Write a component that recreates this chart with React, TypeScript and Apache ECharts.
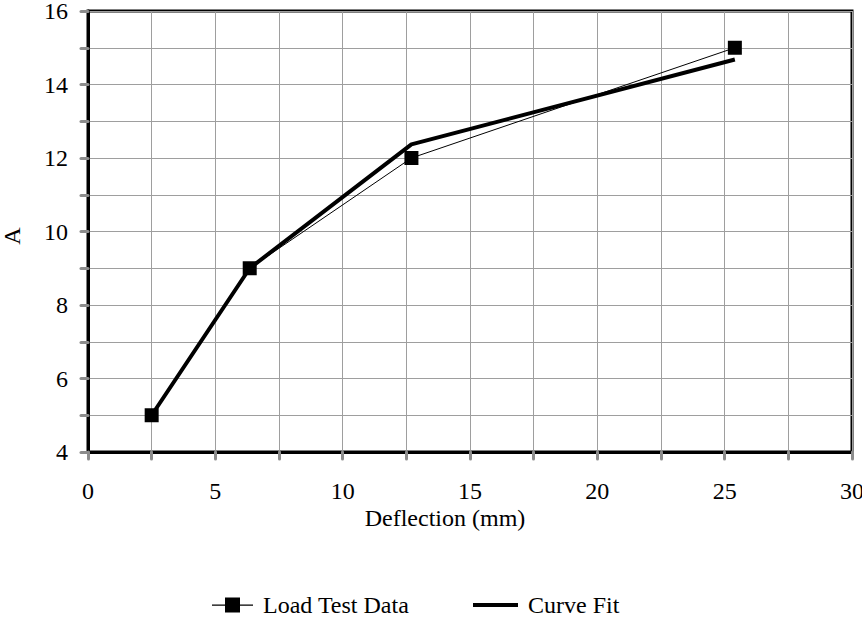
import React, { useEffect, useRef } from "react";
import * as echarts from "echarts";

const loadX = [2.5, 6.35, 12.7, 25.4];
const loadY = [5, 9, 12, 15];
const fitX = [2.5, 6.35, 12.7, 25.4];
const fitY = [5, 9, 12.37, 14.68];
const xTicks = [0, 5, 10, 15, 20, 25, 30];
const yTicks = [4, 6, 8, 10, 12, 14, 16];

const FONT = "Liberation Serif";

export default function App() {
  const ref = useRef<HTMLDivElement>(null);
  useEffect(() => {
    document.body.style.margin = "0";
    const chart = echarts.init(ref.current!, null, { renderer: "svg" });
    const tickStyle = { color: "#8c8c8c", width: 3, cap: "round" };
    chart.setOption({
      animation: false,
      backgroundColor: "#fff",
      textStyle: { fontFamily: FONT },
      grid: {
        left: 88,
        right: 10,
        top: 11,
        bottom: 165,
        outerBoundsMode: "none",
        containLabel: false,
        show: true,
        borderColor: "#000",
        borderWidth: 3,
      },
      legend: [
        {
          left: 212,
          top: 593,
          padding: 0,
          itemWidth: 41,
          itemHeight: 15,
          textStyle: { fontFamily: FONT, fontSize: 24, color: "#000", lineHeight: 24, padding: [0, 0, 0, 5] },
          data: [
            {
              name: "Load Test Data",
              icon: "path://M0,7 H41 V8.2 H0 Z M13,0 H28 V15 H13 Z",
              itemStyle: { color: "#000" },
            },
          ],
        },
        {
          left: 473,
          top: 593,
          padding: 0,
          itemWidth: 45,
          itemHeight: 4,
          textStyle: { fontFamily: FONT, fontSize: 24, color: "#000", lineHeight: 24, padding: [0, 0, 0, 5] },
          data: [{ name: "Curve Fit", icon: "rect", itemStyle: { color: "#000" } }],
        },
      ],
      graphic: [
        {
          type: "text",
          x: 445,
          y: 518,
          style: {
            text: "Deflection (mm)",
            fontFamily: FONT,
            fontSize: 24,
            fill: "#000",
            align: "center",
            verticalAlign: "middle",
          },
        },
        {
          type: "text",
          x: 12,
          y: 236,
          rotation: Math.PI / 2,
          style: {
            text: "A",
            fontFamily: FONT,
            fontSize: 24,
            fill: "#000",
            align: "center",
            verticalAlign: "middle",
          },
        },
      ],
      xAxis: {
        type: "value",
        min: 0,
        max: 30,
        interval: 2.5,
        axisLine: { lineStyle: { color: "#000", width: 3 } },
        axisTick: { show: true, length: 7, lineStyle: tickStyle },
        axisLabel: {
          margin: 27,
          fontFamily: FONT,
          fontSize: 24,
          color: "#000",
          formatter: (v: number) => (xTicks.includes(v) ? String(v) : ""),
        },
        splitLine: { show: true, lineStyle: { color: "#9e9e9e", width: 1 } },
      },
      yAxis: {
        type: "value",
        min: 4,
        max: 16,
        interval: 1,
        axisLine: { show: true, lineStyle: { color: "#000", width: 3 } },
        axisTick: { show: true, length: 7, lineStyle: tickStyle },
        axisLabel: {
          margin: 20,
          fontFamily: FONT,
          fontSize: 24,
          color: "#000",
          formatter: (v: number) => (yTicks.includes(v) ? String(v) : ""),
        },
        splitLine: { show: true, lineStyle: { color: "#9e9e9e", width: 1 } },
      },
      series: [
        {
          name: "Load Test Data",
          type: "line",
          data: loadX.map((x, i) => [x, loadY[i]]),
          symbol: "rect",
          symbolSize: 14,
          itemStyle: { color: "#000" },
          lineStyle: { color: "#000", width: 1 },
          z: 3,
        },
        {
          name: "Curve Fit",
          type: "line",
          data: fitX.map((x, i) => [x, fitY[i]]),
          showSymbol: false,
          symbol: "none",
          itemStyle: { color: "#000" },
          lineStyle: { color: "#000", width: 4 },
          z: 2,
        },
      ],
    });
    return () => chart.dispose();
  }, []);
  return <div ref={ref} style={{ width: 862, height: 617 }} />;
}
